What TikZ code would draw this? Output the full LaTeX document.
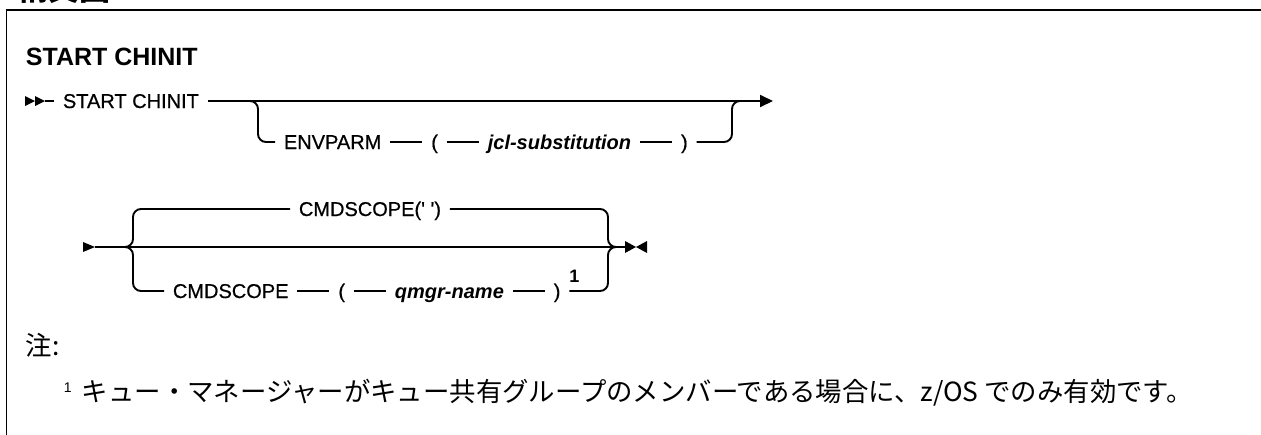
\documentclass[tikz,border=0pt]{standalone}
\usepackage{fontspec}
\setmainfont{Liberation Sans}
\newfontfamily\rr{Liberation Sans}[FakeBold=0.6]
\newfontfamily\cjk{Noto Sans CJK JP}
\usetikzlibrary{arrows.meta,positioning}

\begin{document}
\begin{tikzpicture}[x=1pt, y=-1pt, node distance=32pt, line width=1.9pt,
  kw/.style={inner xsep=8pt, inner ysep=0pt, text height=16pt, text depth=2pt,
             font=\rr\fontsize{20}{24}\selectfont},
  var/.style={kw, font=\fontsize{20}{24}\selectfont\bfseries\itshape},
  rail/.style={rounded corners=8pt},
  jp/.style={inner sep=0pt, font=\cjk\fontsize{26.4}{30}\selectfont}]
\useasboundingbox (0,0) rectangle (1261,434);
\draw (1262,10) -| (6.5,435);
\node[jp, font=\cjk\bfseries\fontsize{31}{34}\selectfont, anchor=base west] (hd) at (17,0) {構文図};
\node[anchor=base west, inner sep=0pt, font=\bfseries\fontsize{25}{30}\selectfont] (ttl) at (25,65) {START CHINIT};

\node[kw, anchor=west] (sc) at (54,101) {START CHINIT};
\coordinate (e1) at (773,101);
\coordinate (b1) at (247,101);
\coordinate (b2) at (742,101);
\fill (25,96) -- (35,101) -- (25,106) -- cycle (35,96) -- (45,101) -- (35,106) -- cycle;
\draw (45,101) -- (sc);
\draw[-{Triangle[length=13pt,width=12pt]}] (sc) -- (e1);
\node[kw, anchor=west] (ep) at (275,142) {ENVPARM};
\node[kw, base right=of ep] (lp1) {(};
\node[var, base right=of lp1] (jcl) {jcl-substitution};
\node[kw, base right=of jcl] (rp1) {)};
\draw[rail] (b1) -| ([xshift=-17pt]ep.west) -- (ep);
\draw (ep) -- (lp1); \draw (lp1) -- (jcl); \draw (jcl) -- (rp1);
\draw[rail] (rp1) -| ([xshift=-10pt]b2) -- (b2);

\coordinate (s2) at (95,247);
\coordinate (f1) at (125,247);
\coordinate (jl) at (133,247);
\coordinate (jr) at (608,247);
\coordinate (f2) at (616,247);
\coordinate (e2) at (625,247);
\fill (83,242) -- (95,247) -- (83,252) -- cycle;
\draw (s2) -- (e2);
\fill (625,241) -- (636,247) -- (625,253) -- cycle (647,241) -- (636,247) -- (647,253) -- cycle;
\node[kw, anchor=west] (cq) at (290,209) {CMDSCOPE(\textquotesingle\ \textquotesingle)};
\draw[rail] (f1) -| (jl |- cq) -- (cq);
\draw[rail] (cq) -| (jr) -- (f2);
\node[kw, anchor=west] (cm) at (164,291) {CMDSCOPE};
\node[kw, base right=of cm] (lp2) {(};
\node[var, base right=of lp2] (qm) {qmgr-name};
\node[kw, base right=of qm] (rp2) {)};
\node[inner sep=0pt, font=\bfseries\fontsize{18}{20}\selectfont] (n1) at ([shift={(5pt,15pt)}]rp2.east) {1};
\draw[rail] (f1) -| (jl |- cm) -- (cm);
\draw (cm) -- (lp2); \draw (lp2) -- (qm); \draw (qm) -- (rp2);
\draw[rail] (rp2) -| (jr) -- (f2);

\node[jp, anchor=base west] (nt) at (25,355) {注:};
\node[anchor=base west, inner sep=0pt, font=\fontsize{14}{16}\selectfont] (fn1) at (63,392) {1};
\node[jp, anchor=base west] (fn) at (81,401) {キュー・マネージャーがキュー共有グループのメンバーである場合に、z/OS でのみ有効です。};
\end{tikzpicture}
\end{document}
